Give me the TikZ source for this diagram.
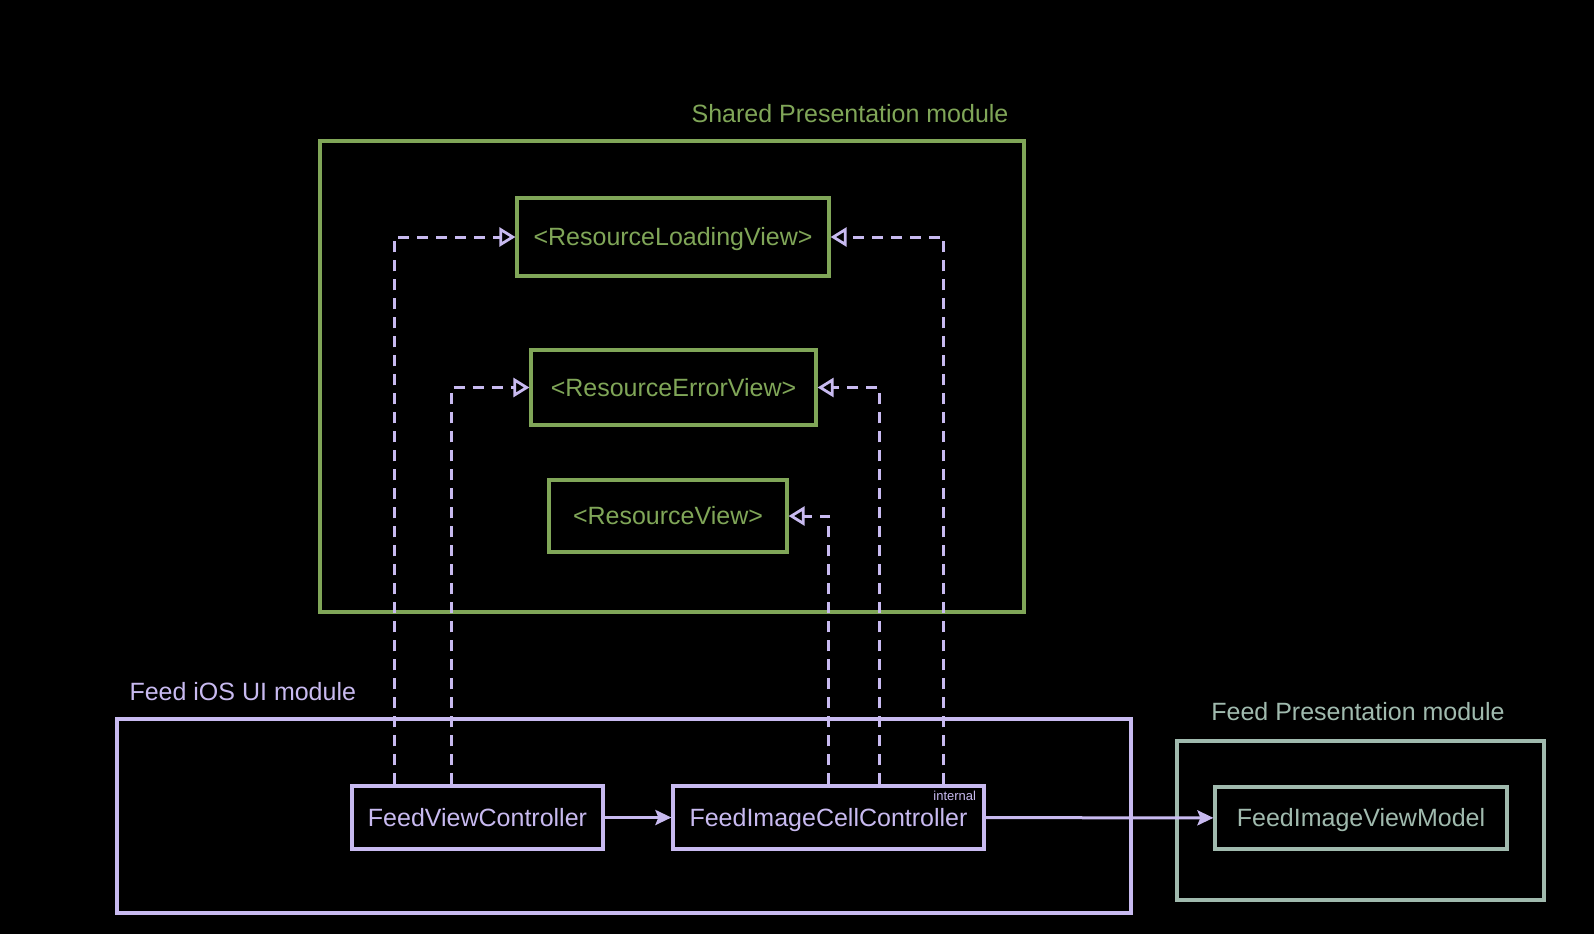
\documentclass[tikz,border=0pt]{standalone}
\usepackage{fontspec}
\setmainfont{Liberation Sans}
\usepackage{xcolor}
\usetikzlibrary{positioning, arrows.meta}

\definecolor{sharedgreen}{RGB}{128,166,88}
\definecolor{iospurple}{RGB}{200,186,240}
\definecolor{presgray}{RGB}{160,186,174}

\begin{document}
\begin{tikzpicture}[
        x=1pt, y=-1pt,
        font=\fontsize{25}{29}\selectfont,
        box/.style={
            draw,
            rectangle,
            line width=3.2pt,
            inner sep=0pt,
            text height=18pt,
            text depth=1pt,
            align=center
        },
        greenbox/.style={box, draw=sharedgreen, text=sharedgreen},
        purplebox/.style={box, draw=iospurple, text=iospurple},
        graybox/.style={box, draw=presgray, text=presgray},
        dep/.style={iospurple, line width=3pt, dash pattern=on 11pt off 8pt,
            -{Triangle[open, length=16pt, width=19pt, line width=2.8pt]}},
        arrow/.style={iospurple, line width=3pt,
            -{Stealth[length=16pt, width=15pt, inset=3pt]}}
    ]

        \fill[black] (0,0) rectangle (1594,934);

        % Shared Presentation module
        \node[greenbox, minimum width=704pt, minimum height=471pt] (shared) at (672,376.5) {};
        \node[text=sharedgreen] (sharedlbl) at (850,114) {Shared Presentation module};

        \node[greenbox, minimum width=312pt, minimum height=78pt] (rlv) at (673,237) {<ResourceLoadingView>};
        \node[greenbox, minimum width=285pt, minimum height=75pt] (rev) at (673.5,387.5) {<ResourceErrorView>};
        \node[greenbox, minimum width=238pt, minimum height=72pt] (rv) at (668,516) {<ResourceView>};

        % Feed iOS UI module
        \node[purplebox, minimum width=1014pt, minimum height=194pt] (ios) at (624,816) {};
        \node[text=iospurple, anchor=west] (ioslbl) at (126,692) {Feed iOS UI module};

        \node[purplebox, minimum width=251pt, minimum height=63pt] (fvc) at (477.5,817.5) {FeedViewController};
        \node[purplebox, minimum width=311pt, minimum height=63pt] (ficc) at (828.5,817.5) {FeedImageCellController};
        \node[text=iospurple, font=\fontsize{13}{15}\selectfont, anchor=north east] (internal)
            at ([xshift=-6pt, yshift=-3pt]ficc.north east) {internal};

        % Feed Presentation module
        \node[graybox, minimum width=367pt, minimum height=159pt] (fpm) at (1360.5,820.5) {};
        \node[text=presgray] (fpmlbl) at (1358,712) {Feed Presentation module};
        \node[graybox, minimum width=292pt, minimum height=62pt] (fivm) at (1361,818) {FeedImageViewModel};

        \draw[dep] ([xshift=44pt]fvc.north west) |- (rlv.west);
        \draw[dep] ([xshift=101pt]fvc.north west) |- (rev.west);
        \draw[dep] (ficc.north) |- (rv.east);
        \draw[dep] ([xshift=51pt]ficc.north) |- (rev.east);
        \draw[dep] ([xshift=115pt]ficc.north) |- (rlv.east);

        \draw[arrow] (fvc) -- (ficc);
        \draw[arrow] (ficc) -- (fivm);

    \end{tikzpicture}
\end{document}
